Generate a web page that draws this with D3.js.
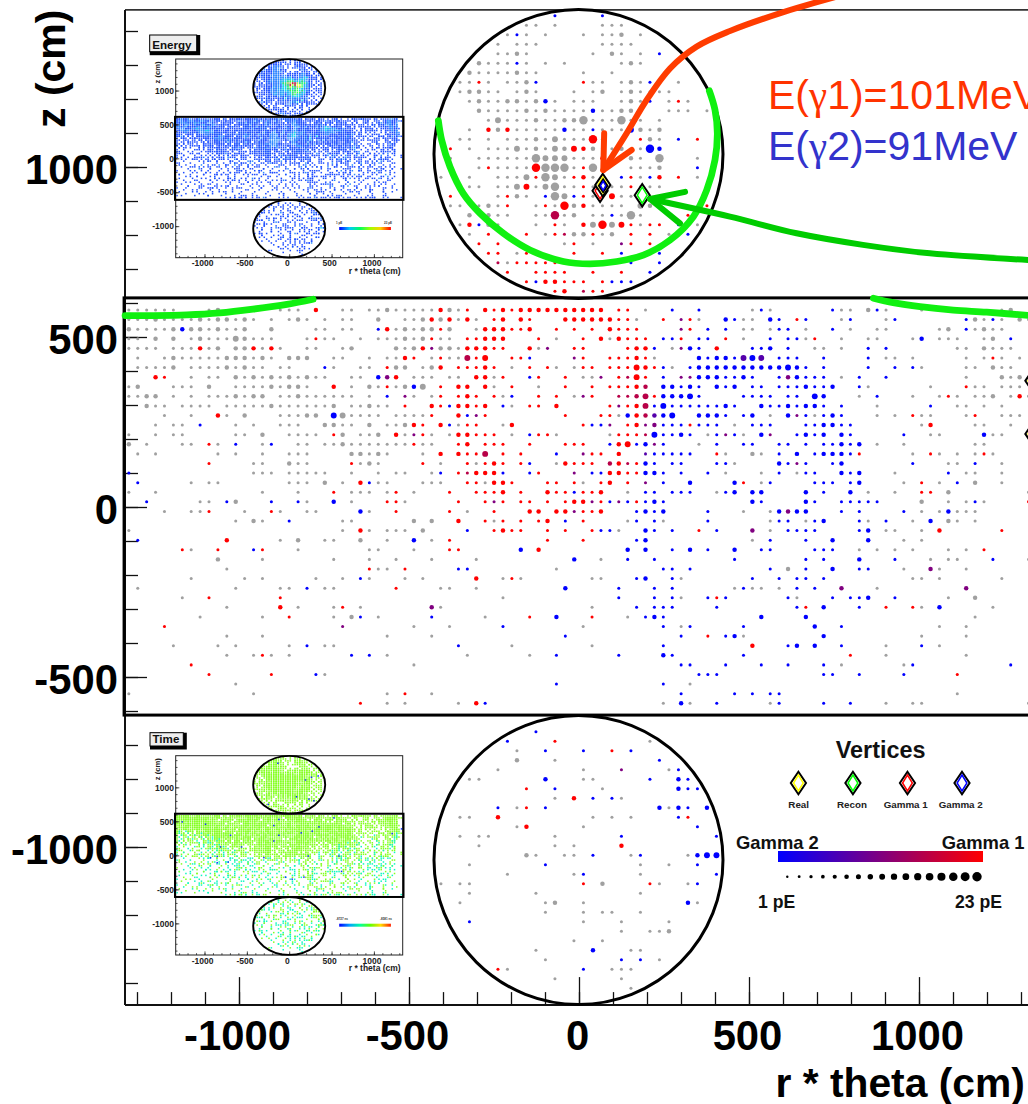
<!DOCTYPE html>
<html><head><meta charset="utf-8">
<script src="https://cdn.jsdelivr.net/npm/d3@7/dist/d3.min.js"></script>
<style>html,body{margin:0;padding:0;background:#fff;overflow:hidden}svg{display:block;font-family:"Liberation Sans",Arial,sans-serif}</style>
</head><body><svg id="c" width="1028" height="1104"></svg>
<script>
// ---- data: one string per detector row, "<column><colour><size>" per hit
// g grey, r red, b blue, p purple, c crimson, v violet; capital = bigger, ^ and + bigger still
const barrelHits = [
"0g 1g 2g 3g 4g 5g 9g 10G 17g 18g 19g 21R 24g 25g 27g 28g 29G 30g 31g 32g 33g 34g 35R 36G 37g 38r 40R 41r 42R 43r 44R 45R 46R 47R 48R 49R 50R 51R 52R 53R 55r 56r 58g 61b 64b 70g 71b 72g 79b 80g 81g 83G 84b 85g 89g 98g 99G",
"0g 1g 2g 3G 4g 5g 6g 7g 8G 9g 10G 11G 12g 13G 14g 16g 18g 19G 20g 22g 24g 25g 28G 31g 32g 33G 34R 35G 36R 37g 38R 39g 41r 42R 44R 45r 49R 50R 51R 52R 53R 54R 55r 56r 57g 60r 62p 63r 64g 67B 68b 69g 70g 72B 73b 75r 76b 80g 81b 85g 86b 94b 95G 96g 97b 98g 100G 101g",
"0G 1g 2g 3g 4g 5G 6B 7G 8G 9g 10G 11g 12g 13G 16G 21g 22g 24g 25g 28b 29R 30g 31G 32g 33G 34G 35r 36G 39g 40R 41R 42R 43r 44r 45R 48r 50r 52r 54R 55r 56r 57r 62p 63r 65b 67b 69g 70g 72g 73b 74b 76g 79b 81g 84g 85g 91g 92G 94b 95g 96G 97g 98g",
"0g 1g 3G 5G 7g 8G 9g 10g 11g 12G^ 13G 14g 15g 16g 20g 21r 22g 23g 26g 28g 29g 30g 31G 32g 33G 34r 35g 36g 38r 39r 40R 41R 42R 46r 48g 51r 53R 54g 55R 56r 57r 58r 60b 61b 62r 64b 65b 67r 69g 72b 74b 75b 76g 77r 80g 83g 84g 88g 89B 91g 92g 93g 96g 97G 99b",
"0g 1g 2g 3g 5g 6g 7g 8R 9g 10G 12G 13G 14R 15g 16R 17g 20g 21g 24g 25G 30G 31g 32G 33R 34p 35G 36G 37g 38R 39R 40R 41r 42r 45R 46g 47p 50r 51r 56r 57R 58R 59b 61g 62p 63B 64b 66R 70b 71b 72B 74b 77g 78g 80g 83b 85b 93g 94g 96G 97g 98g 99g",
"1g 4g 5G 6g 7g 8g 9g 10g 11G 12G 13G 14g 15G 16g 18G 19G 20G 23g 24g 27g 29g 30g 31R 32r 34g 35r 36g 37g 38C^ 39r 40R^ 43r 44r 45b 50p 51r 54r 55r 56r 57R 58r 59g 64B 65b 66B 67B 68b 69V^ 70B^ 71V^ 73b 74b 75b 78b 83b 85g 86g 88g 94g 96g 97r 98g 100g",
"1g 2g 3g 4g 5G 7g 8g 9g 10g 11G 12g 13G 14g 15g 17g 18g 22b 23g 26g 27g 29r 30G 31G 33g 34G 35R 37r 38r 39r 40R 41r 43g 45r 47r 48g 50g 51r 52r 54r 55r 56r 57R^ 58R 59r 60b 61g 63b 64B 65B 66B 67B 68B 69B 70B 71B 72B 73B 74B^ 75B 76b 78b 83b 86b 88b 89g 94g 95g 97G 98g 99g",
"3R 4r 7g 9g 10g 12G 13g 14G 15g 16G 17g 18G 19g 20G 21g 22g 25g 26g 28B 29P 30R 32g 33g 34g 36g 37g 39R 40R 41g 42r 45b 46r 49r 51g 52g 53p 55r 56c 57R^ 58r 60b 62p 63p 64B 65B 66B 67b 68b 69B 70b 73b 74P 75B 76b 77b 78b 80g 82b 85b 94g 98G 99g 100G",
"0g 1G 5g 6g 7g 9G 12g 13g 14g 15g 16G 17g 18G 19G 20g 23R 25g 27G 28g 29r 30g 31G 32B 33G^ 35r 37R 38R 40R 41g 43r 46g 49r 52r 54r 55r 56r 57R 58C 60B 61B 62b 63B 64b 66B 67b 68B 70b 71b 73b 74b 75b 76B 77b 78b 79B 82b 83g 90g 94r 95g 96g 98g 99g 100g",
"0g 1g 2G 3G 5g 7g 9g 10g 11g 12G 13g 14G 15G 17g 18g 19G 20g 21g 22g 23g 24g 25g 27g 29b 31p 32g 34g 35r 37r 38R 39r 41r 42g 43b 46r 48r 50g 51p 52r 55c 56c 57C 58C^ 59r 60B 61B 62B 63B^ 64b 69b 70b 71b 72b 74b 75b 77B^ 78B 82g 84b 88g 91g 92r 93g 95g 96g 97G 99g 100R 101g",
"2G 3g 4g 6g 7g 8g 9g 11g 12g 13g 14g 15g 16G 17g 18g 19g 20g 21g 22g 23G 25g 26g 27G 28g 29g 31r 34R 35r 36b 37R 38R 39r 40R 42b 43g 45r 46r 48R 54r 55p 56r 57R 58C^ 59b 60B^ 61b 62b 63b 64b 65b 66b 67B 68b 71B 72b 73b 74B 75b 76B 77B 78b 80b 84g 90b 93g 94g 96g 98g",
"4g 7g 10R 11g 13G 17g 18g 19g 20G 21G 23B^ 24G^ 25g 26g 27g 28g 30g 31g 32g 33g 34r 37R 38b 39p 40r 49r 53r 54r 55g 56B 57R 58C 59V 60B 61B^ 64B 65B 66B 67b 69b 70B 72g 74B 75p 76b 77g 78b 79B 80b 84g 86g 88r 89g 90g 94g 95r 98g 99g 100g",
"3g 5g 6g 8b 12g 14g 17g 18g 19g 22G 23G 24g 25g 27G 29g 30g 31G 32R 33r 35R 36b 37g 38r 39r 42g 43R 51r 52b 53b 54p 56r 57R 58p 59P 60b 61b 62b 63r 64b 65b 66b 68g 70b 71b 72b 76b 77b 78B 79B 80b 81b 89g 90R 95g 96g 99g",
"0g 3g 5g 6g 12g 13g 15G 18g 19g 20g 21g 23r 24G 26g 27g 28G 30R 31g 32p 33r 34g 36g 37R 38R 39r 40r 41r 43g 45b 46r 47r 48g 54g 55r 56r 57r 58c 59B^ 60b 61b 62B 63b 65g 66b 67p 68b 69g 71B 72p 75b 76B 77b 78B 80B 81b 87b 90g 91g 96B 97g 98g",
"0G 2g 6g 7g 9r 10g 12b 15g 16b 19g 20g 22g 23g 24G 25g 26g 27g 28g 29g 30g 31g 32r 33g 34g 37r 38R 40r 41r 42r 45r 49r 50r 51r 54b 55R 56R^ 57b 58B 59p 60b 64g 66b 69b 70b 73b 74b 76b 78b 79b 80B 81b 82B 84g 87g 95g 96g",
"1g 3g 10g 12g 15g 18g 19g 20g 25G 26G 27g 28G 29g 33g 35R 37R 38r 39r 40C^ 42r 44r 48b 51p 52r 53r 55R 58v 59b 60b 61b 62b 63b 66r 67g 70G 71g 73b 75B 77b 78B 79B 80B 81b 82r 88g 90r 91g 93g 95g 96r 97g",
"9r 14g 15g 18G 19g 20g 25r 26g 27G 28g 33r 35g 38r 39g 40r 41R 42r 44r 45b 48g 49R 50r 51r 52r 54C 55R 56c 57r 58B 59b 61b 62b 66b 67b 68g 73B 74b 75p 76b 79b 80B 88b 92g 93g 95b 98g",
"0b 14g 15g 16g 18g 19g 20g 21g 22g 25g 28g 30g 31g 34g 35b 37r 38c 39R 40R 41R 42b 45b 46r 50p 52b 53b 54R 55R 56r 57r 58B 59B 60b 62b 65b 67g 71g 73b 75g 76b 77b 80B 81b 82B 86g 92b 94g 95g 98g",
"1b 7g 9g 10g 18g 19g 20g 22G 24g 26R 27b 28g 29g 33g 34g 35g 38r 39r 40g 41R 42R 43r 47r 48r 50r 51g 53r 54R 56r 58p 60b 63B 68B 69r 71g 72b 77b 78b 79b 81b 82B 87g 89r 91g 93b 95G 98g",
"0g 3g 15g 19g 23r 25g 26g 27g 29g 30r 32g 36r 39r 40r 41r 42R 44r 47R 48r 49r 50b 51r 52r 53R 56g 58b 59b 61b 62b 63b 66g 67b 68B 70B 71B 76B 78b 81B 83g 86g 89r 90r 92G 101g",
"2b 8g 9g 11b 12G 16b 19b 20g 23B 25g 29r 30r 31g 37r 40r 41p 42r 44r 45r 47r 49r 50R 51R 52p 53r 54b 55p 56b 57r 58b 59B 60b 70B 71b 76B 77b 80b 81b 82b 83b 84b 89G 92g 94g 95b 96g 101r",
"4g 7g 8g 9r 13g 16r 17g 20g 21g 26B 27g 30r 36r 38g 41r 45R 46R 48R 49R 50p 51r 52r 53R 57b 58B 59b 60B 65b 69g 72g 73B 74P 75B 76B 80b 82b 87b 89g 91g 92B 93g 94g 95g",
"12g 14G 15g 18b 24g 25g 32G 34G 37R 40r 41g 42r 44r 46r 47R 49b 51r 56g 57b 59b 60g 65b 72g 73b 74b 76g 77b 78B 82b 83g 85b 88g 90B 92G 93g 95g",
"0g 24g 26R 27g 29g 30g 31g 33G 38b 41r 42R 43r 44r 47r 49r 52r 53b 54b 55g 58B 59b 61b 64r 66b 70P 72g 74b 75b 76b 77b 82b 83B 85g 86g 89g 91R 98r",
"1b 11R 17g 19G 22g 23g 26G 29g 32B 34g 36r 47r 51r 57b 58B 70g 72b 76b 79B 83B 87g 89g",
"6r 7g 10r 14b 15r 19g 27g 28g 32g 36r 37r 44B 46R 56B 58B 61b 63B 65b 68B 71b 72b 77b 78b 79b 82g 84g 86g 88g 92g 94g 96r",
"10G 15g 23g 27g 30g 34g 39g 50B 53g 56b 59b 68b 76b 78b 82B 86b 90g 92g 93g 97b 101g",
"11g 27r 28g 29g 31r 37b 38b 48g 60b 61b 63b 72b 74G 76b 79B 82b 83b 87g 90P 91g 94g",
"7g 13g 15g 21g 24g 26b 27g 31g 33g 39R 42g 43r 44g 52g 53g 57b 58B 61b 62g 70b 73b 75b 76b 78b 88g 89g 91g 98g",
"1g 12g 17g 18g 20b 22g 23g 30r 35g 36g 39g 49B 55b 59b 61b 68g 69b 70g 71g 73g 75b 77b 80P 84g 94P",
"6g 9r 17r 42g 55b 59b 61b 62g 65b 66r 67b 74b 75g 79b 81b 82b 83B 86b 92g 95G",
"11g 17R 19g 23g 24r 26g 34P 35g 52g 57b 59b 60b 61b 66b 75b 76r 78B 82b 85r 88r 89g 91B 97g",
"8g 15g 18r 23g 25G 26b 28g 34b 40g 45r 48B 52r 56g 58b 59B 60b 71B 76B 95g",
"4r 24p 32g 36g 42b 51g 60b 62g 63b 69b 77B 80b 91g 94g",
"11g 15g 29g 34g 49b 62b 65r 67b 68B 69g 78B 89g 94g",
"5g 10g 12g 18g 20b 22g 23g 37b 43g 52g 60b 70R 74b 75B 77B 80b 85g 89b 91g",
"11g 14g 15r 16g 18g 25b 27b 29g 38g 45g 48b 55b 60B 61b 69b 81r 85g 94g",
"7r 32g 62b 63b 67b 71b 74b 78b 80g 87g 88b 99b",
"9r 16r 21b 22g 64b 65b 66b 78b 79b 82b 87b 93r",
"12g 48b 60b 63g",
"0g 14g 29g 31r 34g 62b 68b 70b 72b 73b 93g",
"26r 29g 31g 37g 39R 40b 60g 62B 63g 66b 72g 73b 78b 81b 85g 88g 89g 101g"
];
const topHits = [
"12b 17b",
"9g 10g 12g 17g 18g 19g",
"7g 8b 9g 11g 15g 17g 18g 19G 21g",
"6g 8g 9g 10g 17g 18g 19g 20g",
"6g 7g 8G 9g 16g 18G 19g 21g 23b",
"4G 5g 6g 7g 8b 9g 11g 13g 19g 20G 21g",
"3G 4g 5g 6g 7g 8G 9g 10g 15g 18g",
"2g 3g 4r 5g 7g 8g 9G 10b 15r 16g 17g 19g 20G 21g 22b 25g",
"2g 3G 4G 5g 6g 8g 9G 10g 14g 16g 17G 19g 20G 21g 22g 23g 24g",
"3g 4G 5g 6g 7G 8G 9g 10G 11B 12g 14g 15g 16g 19g 20G 21g 22b 24g 25r 26g",
"4G 5g 6g 7g 8g 9G 10g 11G 12g 13g 14g 15g 16B 17g 18g 19G 20G 21g 24g 25g 26g 28g",
"5g 6G^ 7g 8g 9g 10G 11g 12g 13G 14G 15G+ 16g 17g 18g 19G+ 20g 21g 23g",
"3g 5R 6G 7R 8g 9g 10g 11g 12g 13B 14g 15g 16b 17g 18g 19g 20B^ 21G 22g 23G",
"2g 3g 5g 7g 8g 9g 10G 11g 12G^ 13g 14g 15g 16R+ 17g 21r 22G 23g 25b 27r",
"1r 3g 5g 6g 7g 8G^ 9g 10G 11g 12G^ 13G 14R^ 15R 16G 17g 18g 19G 21g 22B+ 23B",
"1g 4g 5g 6g 7g 8g 9g 10G+ 11G^ 12G^ 13G^ 14g 15g 16g 17R 20G 21g 23G+ 27g",
"4g 5r 6g 7g 8g 9g 10R+ 11G+ 12G+ 13G+ 14g 15r 16G+ 17g 20g 21g 22g 23G 27b",
"0g 3g 6g 7g 8g 9G^ 10r 11G+ 12G^ 13g 14r 15R 16g 19b 20r 21g 22b 23R 25r 27g",
"3g 4g 6g 7g 8G^ 9R^ 10g 11G^ 12G+ 13g 14g 15r 16g 18g 19g 20r 21g 22g 23g",
"1r 6g 7r 8G 9g 11b 12G+ 13G^ 14b 15r 16g 18R^ 19g 20g",
"1g 2g 4g 5G 6g 7r 10g 11r 12g 13R+ 14G 15R 16g 17g 18g 19g 21G^ 22G 28r",
"3G 5G 6g 7g 10g 11g 12C+ 13g 14G 16g 17g 18b 19g 20G+ 21g 26r",
"2g 3R 4b 5G 6g 10g 12r 13g 15R 16G^ 17R+ 18G^ 19R^ 20r 21g 22r 23r 25b 27g",
"3g 5r 9r 11g 12r 13c 14G 15G 16r 17g 18G 20r 22r 24g 25b 26b",
"4r 6r 13g 14r 16g 19p 20r 22r",
"5r 6r 8g 9r 14r 17r 19b 23b",
"6c 7g 8r 9r 10r 11r 12r 20b 23b",
"7r 10r 11r 12r 13r 16r 19r 22b",
"9r 10b 11R 12R 13r 14r 15r 17r 18b 19b 20b",
"12r 13R 15c 16r 17r"
];
const bottomHits = [
"10b","7b 12r 22g","8g 11b 15b 18r 20b","8G 12g 23b","6g 15g 19p 24g 25b",
"3g 4g 11B 15g 16g 22b 25B 26b","9r 12b 17g 25B 26b 27b","12g 14R 16b 18b 19g",
"6b 8g 9r 11b 23B 24g 25B 26b 28B","2g 3g 6R 16g 18g 20g 25b 26r","8g 9R 15g 27b",
"2g 4g 5g 12g 19b 29b","4g 12g 14g 19R","9G 10g 13g 14g 16b 20g 21b 26g 27B 28B^ 29B^",
"3g 11b 21g 24g 27b","7g 14g 15b 21g 29b","0g 2g 3g 15r 17G 22r 23g 26g 27b","3g 10g 21g",
"2g 11g 12G 15g 26B 27g","11g 15g 17g 18g 21g","3b 15g 19g 24g","19g 22g 23g 24G","14g 17g",
"10g 16B 20g 21g","11g 19b 21b 23g","6r 7g 15b 18g 19g 20g","12g 19g","20g"
];
// detector cells lit only in the small all-hit plots: a-f energy level, t = low energy and late time
const insetBarrelExtra = [
"aabaabbaaabaaabaaaaa.aa.aaaaaa.aaaaaa.aaa.aaaa.aaaaaaaaaa.aaaaa.aaa.a..aa.a..a.aa.aaa.aa.aa.aaaabbaa",
"abbaabbbaaabbaaabaaa.aaaa.aa.aa.aaa.aa.aabaa.aaa.aaaabaaa.aaaa.aaaa..a.aaaa..aa.a...a.a..aaa.aabbaaa",
"aabbbaaabbbaaabbaaa.aa.aaa.aaaa.aaaaaa.a.aa.aaaaa.aabbaaaaa.a.aaaa.aaaa.a.aaa..a.a...aa.a.aa.aabbaab",
"abaabbaabaabbaaabbaaaa.aa.aaaaaaa.aa.aaa.a.aaaaa.aaabbbaaaaaa.aaabaa.a.aaaa.a.aa..a...a.aa.a.abbbaab",
"bbabbaaaabbaaabbaaaaaa.aaaaaa.aaaaaa.aaaa.aaaaaaabaaabbbaa.aaaa.aabcbbaaaaa.aaa.a.a.a.aa.a.aa.aabbab",
"abbbaaabbcbbaabaaaaaaaaa.aa.aaaaaabaaaaaa.aaaaaaaabaabbaaaaaaaaaabbccbbbaaabaa.aa..a.a.aa.a.aa.abbaa",
"aabbbbaaabbbbccbbaaaaaaaaaaaaaaaaaaaaaa.aaaabaaabaaabbbaaaaaaaaaabbcbbbabbaaaaaa.a.a.a.aa.a.a.a.abab",
"aaaabaaaaabbbbbbbaaaaaaaaaa.aaaaaaaaaaa.aaabbaaabaabbcbbbaaaaaaaaaabbbbbaaaaaaaaa..a.a.a.a..a.a.aaab",
"ata.taaa.aaa.bbaaaaaa.aaaaa.aaabaaaaa.aaaabbbbabaabbccbbbaaa.aaaaaabbaaaaaaaaaa.a.a...a.aa.a...a.aab",
"at.a.t.a.aata.aaaaabbbaaaa.aaabbbaaaa.aaaabbbbaaaabbccbbaaaa.aa.aaaaaaaaaaaaaaaa.a.a.a.a...a.a..a.at",
"a.ta..a.t.a.aat.abbbbaaaa.aaaaabaaa.aa.aaabbbbbaaabbbbbbaaaa.a.aaaaaaaaaaaaaaaaa..a...a..t.a.a.a.aat",
"at.a.t..a.at.aaataabaaaaaa.a.aaaaa.aa.aaaabbbbbaaaabbbbaaaaa.a.a.a.aa.aaaaaaaa.a.a.t...a...a..a..att",
"a.t..a.t.a.at.aataataaa.a.aaaaa.aa.a.aaaaabbbbaa.a.abbaaaaa.aa.a..aaaaaaaaaaaaa...a.....t.a...a.a.t",
".t.a...a.t..a.taaataaa.aa.aaa.a.a.aa.aaabbbbbbaa.aaabbbaaa.a.a.aaa.aaaaaaaaaa.a.t..a..a...t..a.a.tt",
"a.t.a...a.t.aatta.aa.aa.a.aa.a.a.a..aaaaaabbbbaaa.aaaabbaaaa.aa.a.a.aaaaaaaaata...t.....a..t.a...at",
".a..t.a...a.t.a.atat.aaa.aa..aa.a.a.aaaaaabaabaa.a.aaaaaaaa..a.a.a.aa.aaataaa.a..t...a....t...a.tt.",
"t..a....t.a.t..at.a.ata.aa.a.a...a.aaaa.aaaaaa.aa.a.aaaaaa.a.a..a.a.a.a.ataat.a....t..a..t...a...ta",
".a...t.a...t.a.t.at.aa.t.a...a.a.a.aaa.aaaa.aa.a.aa.aaaaa.a...a.a...a.a.at.a.at.t....a....t..a..t.a",
"t.a...t...a...t.a.t.ta.a..t.a.a..a.aaaa.aaa.a.a.a.a.aaaaaa.a.a..a.a..at.at.a.t...a..t..a.....t...a.",
"...t....a..t.a...t.a.t.a.t...a.t...a.aaa.aa.a.a.a..aaaa.a.a..a..t..a..t.a.t..a..t...a....t.....a..t",
"t....a....t...a.t.a..t..a.t..a...a.a.aa.aa.a.a.a.a.a.aa.aa.a..a.t..a.t.a.t.a..t.a....a...t..a.....",
"..t....a...t..a..t.a.t.a...t.a.a...a.a.aa.a.a.a.aa.a.a.aa.a.a...t.a...t.a.t.a.a....t...a....t.a..a",
"...t......a...t...a.....t...a....t...a..a.t..a...a...t..a...a...t.....a...t..a...a....t...a.....t..",
".a....t.....a.....t..a....t..a.....a...t...a.t.....a...t...a.....t..a.....t.....a.t.....a...t....a",
"....t...a.....t.a.....t.....a...t....a..t.....a.t....a.t....a.t.....a...t....a.....t...a.....t..a..",
"..a.....t...a.....t...a..t......a..t.....a...t...a.....t..a....t.a.....t..a.....t.a....t...a......t",
".....t.....a...t....a.....t.a....t.....a...t.....a...t...a.t.....a...t.....a.t.....a.....t...a...t.",
"a.....t.a.....t....a...t.....a.....t.a....t...a....t.....a....t.a...t...a.....t...a...t.....a...t..",
"...t.....a...t....a.....t...a..t.....a.....t.a.....t...a...t.....a...t.....a..t.....a.t.....a...t..",
".a....t.....a.....t.a.....t.....a.t.....a.....t..a...t.....a.t.....a....t.....a...t.....a.t.....a..",
"....t....a.....t.......a..t.....a.....t..a...t.....a.t.....a...t.....a.t.....a.....t...a.....t....a",
".t.....a.....t...a.....t.....a.t.....a...t.....a.....t.a.....t.....a...t....a...t.....a.....t..a...",
"...a.....t.....a.....t...a.....t.....a.....t...a.t.....a.....t..a.....t.....a.....t.a.....t.....a..",
"t.....a...t.....a.....t.....a...t.....a..t.....a.....t.....a.t.....a.....t...a.....t.....a...t.....",
"..a.....t.....a...t.....a.....t.....a.....t...a.....t.a.....t.....a...t.....a.....t...a.....t.....a",
".....t.....a.....t.....a...t.....a.....t.....a...t.....a.....t.a.....t.....a.....t.....a...t.....a.",
"t...a.....t.....a.....t.....a.....t...a.....t.....a..t.....a.....t.....a...t.....a.....t.....a...t.",
"...t.....a.....t...a.....t.....a.....t.....a.t.....a.....t.a.....t.....a.....t.....a...t.....a.....",
".a.....t.....a.....t.....a...t.....a.....t.....a.....t.....a...t.....a.....t.....a.....t.....a...t.",
"....a.....t.....a.....t.....a.....t.....a.....t.a.....t.....a.....t...a.....t.....a.....t.....a....",
"..t.....a.....t.....a.....t...a.....t.....a.....t.....a.t.....a.....t.....a.....t.....a.t.....a....",
"......................t.a.t.aa.t..a.t.........a.t.a....a.t.a.....t.a.t.a.t.a.t.....a.t.a.t...a.t..."
];
const insetTopExtra = [
"..........a.a..a.a.a..........","........aa.a.a.a...a.a........","......aaaaaa.aa..a.aa.a.a.....",
".....aaabbbaa.a...aa.aa.a.....","....a.aabbbba.a..a..aa.aa.a...","...a.aaabbbaaa.....a.aa.a.a...",
"..aa.aaabbbbaa...aa.aaaa.aa...","..a.aaaabbbaa.aa.aaabbaa.a.a..",".a.aaaabbbbabbaa.aabbbaaa.aa..",
".aa.aaaabbbbbbbcaaabbccaa.a.a.",".a.aaaabbbbbcccccbbcccbaa.a.a.",".aa.aaabbbbcccdddcccdcbaa.aa.a",
"a.aa.aaabbbcddeeffedddcaa.a.a.","a.a.aaaabbbbcddfefeedcbaaa.aa.","a.a.aaaabbbbccdeddeedcbaa.a.a.",
".aa.aaabbbbbccddcddccbaa.aa.a.",".a.a.aabbbbbbccddddcdcbaa.a.a.",".aa.aaabbbbbbbccddddccaa.a..a.",
"..a.aa.abbbbbaccddcccba.a.a.a.","..aa.aa.aabbaabbccccbaa.aa.a..","...a.aa.aaa.a.abbbbbaa.a.a....",
"...a.a.aa.a.a.aabbaa.aa.a.a...","....aa.a.a.a..a.aa.a.aa.a.....",".....a.a.aa.a...a.a.a.aa......",
"......a.aa...a.a.a..a.a.......","........a.a.a.a..a.aa.........",".........a.a..a.a.a.a.........","...........a.a.a.a............"
];
const insetBottomExtra = [
"..........t..a.t...a..........",".......a..t...a.t..a..........","......t..a..t....a...t........",
"....a...t.....a..t..a...a.....","....t...a..a..t....a..t.......","...a..t.....a...t...a...t.a...",
"..a....t..a...t...a..t...a....","..t..a.....t..a....t....a...t.",".a...t..a....t...a..t..a...a..",
".t.a....a..t..a....t....t.a.t.","a...t.....a...t..a....a....a..",".a..t..a.....t...a..t...a..t.a",
"t...a....t...a...t...a..t...t.",".a.t...a...t...a....t.a....a.t","...a...t.....a..t..a...t...t..",
"..t....a..t....a...t...a..a...","..a..t.....a...t..a...t..a.t..","...t....a...t..a....a...t.....",
"....a..t....a..t...t..a...a...",".....t....a...t..a..t...a.....","......a..t...a...t...a..t.....",
".......t....a..t.a...t.a......","........a...t...a...t.........","..........t..a..t.a...........","............a.t..............."
];
// blue (early) cells of the time plot: r*theta and z, cm
const timeEarlyTheta = [-1263,-988,-693,-811,-563,-929,-850,-850,-720,-122,-181,-122,-181,142,272,351,528,224,587,618,-44,35,174,-299,1216,1326,-133,342,263,192,410,86,233,292,-248];
const timeEarlyZ = [492,458,295,123,123,-34,-15,-108,-99,527,438,295,211,330,355,418,551,-10,-10,-236,-320,-350,-320,-34,320,389,1354,1167,1148,1108,1167,861,827,802,749];

const xTicks = [-1000,-500,0,500,1000];
const zTicks = [1000,500,0,-500,-1000];
const legendPe = [1,2.4,3.75,5.1,6.5,7.9,9.25,10.6,12,13.4,14.75,16.1,17.5,18.9,20.25,21.6,23];
const vertexNames = ["Real","Recon","Gamma 1","Gamma 2"];
const vertexColors = ["#ffff00","#00ff00","#ff0000","#0000ff"];
const energyStops = ["#0000ff","#00c8ff","#00ff60","#a0ff00","#ffd000","#ff0000"];
const timeStops = ["#0000ff","#00a0ff","#00ffa0","#60ff00","#ffe000","#ff2000"];
const energyLevels = {a:"#1c4cff",t:"#1c4cff",b:"#2a8cff",c:"#10d8e8",d:"#30ff50",e:"#e0ff20",f:"#ff2000"};
const ringTop = [[-413.7,1136],[-403.9,1079],[-379.4,1001],[-340.2,922],[-291.2,864],[-222.6,805],[-144.1,756],[-46,722],[32.4,715],[110.8,722],[189.2,741],[267.6,785],[336.3,854],[375.5,932],[400,1021],[406.9,1099],[400,1168],[383.4,1224]];
const ringBarrelLeft = [[-1335,563],[-1253,563],[-1154,565],[-1056,571],[-959,582],[-859,596],[-782,611]];
const ringBarrelRight = [[866,614],[924,601],[1003,589],[1101,579],[1199,573],[1340,562]];
const redArrow = [[765,1503],[606,1457],[444,1400],[346,1354],[268,1290],[199,1197],[140,1099],[71.5,991]];
const redBarbs = [[74,1099],[71.5,991],[155,1050]];
const greenArrow = [[1332,726],[1032,746],[835,771],[640,805],[444,854],[209,906]];
const greenBarbs = [[312,927],[209,906],[297,834]];
const vertices = [["Gamma 1",62,930],["Real",70,947],["Gamma 2",71,945],["Recon",186,917],["Real",1335,371],["Real",1335,215]];

// geometry of the detector grids, cm
const barrelCol0=-1324, barrelColStep=26.2, barrelRow0=579.4, barrelRowStep=28.21;
const capCol0=-406, capStep=27.94, topRow0=1445, bottomRow0=-661;
const capRadius=425, capCentre=1038, barrelHalf=612;

// ---- scales
const W=1028,H=1104;
const svg=d3.select("#c");
const x=d3.scaleLinear().domain([-1000,1000]).range([239,919]);
const y=d3.scaleLinear().domain([1000,-1000]).range([167,847]);
const rPe=d3.scaleLinear().domain([1,23]).range([1.2,4.7]);
const gammaMix=d3.scaleLinear().domain([0,1]).range(["#0000ff","#ff0000"]);
const mixOf={r:1,c:.72,p:.5,v:.33,b:0};
const peOf=(big,mod)=>mod==="+"?20:mod==="^"?12:big?7.5:3;

function parse(rows,region){
  return rows.flatMap((s,row)=>s.split(" ").filter(Boolean).map(t=>{
    const m=t.match(/^(\d+)([a-zA-Z])([+^]?)$/);
    const k=m[2].toLowerCase(),big=m[2]!==k,col=+m[1];
    const pos=place(region,col,row);
    return {region,row,col,k,pe:peOf(big,m[3]),theta:pos[0],z:pos[1]};
  }));
}
function place(region,col,row){
  if(region==="barrel") return [barrelCol0+col*barrelColStep,barrelRow0-row*barrelRowStep];
  return [capCol0+col*capStep,(region==="top"?topRow0:bottomRow0)-row*capStep];
}
const hits=[...parse(barrelHits,"barrel"),...parse(topHits,"top"),...parse(bottomHits,"bottom")];
const extras=[["barrel",insetBarrelExtra],["top",insetTopExtra],["bottom",insetBottomExtra]].flatMap(([region,rows])=>
  rows.flatMap((s,row)=>Array.from(s).map((ch,col)=>({ch,col,row,region})).filter(d=>d.ch!==".").map(d=>{
    const pos=place(region,d.col,d.row);return {...d,theta:pos[0],z:pos[1]};
  })));

const defs=svg.append("defs");
function gradient(id,stops){
  const g=defs.append("linearGradient").attr("id",id);
  stops.forEach((c,i)=>g.append("stop").attr("offset",i/(stops.length-1)).attr("stop-color",c));
}
gradient("gradGamma",["#0000ff","#ff0000"]);
gradient("gradEnergy",energyStops);
gradient("gradTime",timeStops);

svg.append("rect").attr("width",W).attr("height",H).attr("fill","#fff");

// ---- main axes
const axisStyle=g=>{g.select(".domain").remove();g.selectAll("line").attr("stroke","#111");g.selectAll(".tick line").attr("stroke-width",1.3);};
const all100x=d3.range(-1300,1700,100), all100y=d3.range(-1400,1500,100);
const yb=y(-1465), xl=125;
svg.append("line").attr("x1",xl).attr("x2",W).attr("y1",y(1462)).attr("y2",y(1462)).attr("stroke","#333").attr("stroke-width",1.6);
svg.append("g").attr("transform",`translate(0,${yb})`).call(d3.axisBottom(x).tickValues(all100x).tickSize(-13).tickFormat("")).call(axisStyle);
svg.append("g").attr("transform",`translate(0,${yb})`)
 .call(d3.axisBottom(x).tickValues(xTicks).tickSize(-28).tickPadding(15))
 .call(axisStyle)
 .call(g=>g.selectAll("text").attr("font-size",41.8).attr("font-weight","bold").attr("font-family","Liberation Sans").attr("fill","#000").attr("dx",-2).text(d=>d));
svg.append("g").attr("transform",`translate(${xl},0)`).call(d3.axisLeft(y).tickValues(all100y).tickSize(-13).tickFormat("")).call(axisStyle);
svg.append("g").attr("transform",`translate(${xl},0)`)
 .call(d3.axisLeft(y).tickValues(zTicks).tickSize(-22).tickPadding(7))
 .call(axisStyle)
 .call(g=>g.selectAll("text").attr("font-size",41.8).attr("font-weight","bold").attr("font-family","Liberation Sans").attr("fill","#000").attr("dy","0.4em").text(d=>d));
svg.append("line").attr("x1",xl).attr("x2",xl).attr("y1",y(1462)).attr("y2",yb).attr("stroke","#111").attr("stroke-width",2);
svg.append("line").attr("x1",xl).attr("x2",W).attr("y1",yb).attr("y2",yb).attr("stroke","#111").attr("stroke-width",2);

svg.append("text").attr("transform","translate(65,128) rotate(-90)").attr("font-size",41).attr("font-weight","bold").text("z (cm)");
svg.append("text").attr("x",775.5).attr("y",1097).attr("font-size",40.8).attr("font-weight","bold").text("r * theta (cm)");

// ---- insets
function inset(cfg){
  const ix=d3.scaleLinear().domain([-1340,1340]).range([175.7,402.7]);
  const iy=d3.scaleLinear().domain([1465,-1465]).range([cfg.top,cfg.bottom]);
  const g=svg.append("g");
  g.append("rect").attr("x",cfg.boxX).attr("y",cfg.boxY).attr("width",cfg.boxW+3.5).attr("height",cfg.boxH+3.5).attr("fill","#000");
  g.append("rect").attr("x",cfg.boxX).attr("y",cfg.boxY).attr("width",cfg.boxW).attr("height",cfg.boxH).attr("fill","#eee").attr("stroke","#000").attr("stroke-width",1);
  g.append("text").attr("x",cfg.boxX+2.5).attr("y",cfg.boxY+cfg.boxH-3).attr("font-size",11.6).attr("font-weight","bold").attr("fill","#111").text(cfg.title);
  g.append("rect").attr("x",175.7).attr("y",cfg.top).attr("width",227).attr("height",cfg.bottom-cfg.top).attr("fill","#fff").attr("stroke","#222").attr("stroke-width",1);

  const clipId="clip"+cfg.title;
  const cp=defs.append("clipPath").attr("id",clipId);
  cp.append("rect").attr("x",175.7).attr("y",iy(barrelHalf)).attr("width",227).attr("height",iy(-barrelHalf)-iy(barrelHalf));
  [capCentre,-capCentre].forEach(c=>cp.append("ellipse").attr("cx",ix(0)).attr("cy",iy(c)).attr("rx",ix(capRadius)-ix(0)).attr("ry",iy(0)-iy(capRadius)));

  const cells=g.append("g").attr("clip-path",`url(#${clipId})`);
  const s=1.5;
  cells.append("g").selectAll("rect").data(hits).join("rect").attr("x",d=>ix(d.theta)-s/2).attr("y",d=>iy(d.z)-s/2).attr("width",s).attr("height",s).attr("fill",cfg.hitColor);
  cells.append("g").selectAll("rect").data(extras).join("rect").attr("x",d=>ix(d.theta)-s/2).attr("y",d=>iy(d.z)-s/2).attr("width",s).attr("height",s).attr("fill",cfg.extraColor);
  if(cfg.early) cells.append("g").selectAll("rect").data(timeEarlyTheta).join("rect").attr("x",d=>ix(d)-s/2).attr("y",(d,i)=>iy(timeEarlyZ[i])-s/2).attr("width",s).attr("height",s).attr("fill","#1030ff");

  const st=a=>{a.select(".domain").remove();a.selectAll("line").attr("stroke","#222").attr("stroke-width",.8);};
  const txt=a=>a.selectAll("text").attr("font-size",8.5).attr("font-weight","bold").attr("font-family","Liberation Sans").attr("fill","#222");
  g.append("g").attr("transform",`translate(0,${cfg.bottom})`).call(d3.axisBottom(ix).tickValues(d3.range(-1300,1400,100)).tickSize(-1.8).tickFormat("")).call(st);
  g.append("g").attr("transform",`translate(0,${cfg.bottom})`).call(d3.axisBottom(ix).tickValues(xTicks).tickSize(-3.6).tickPadding(2.5)).call(st).call(txt).call(a=>a.selectAll("text").attr("dx",-2.4).text(d=>d));
  g.append("g").attr("transform","translate(175.7,0)").call(d3.axisLeft(iy).tickValues(d3.range(-1400,1500,100)).tickSize(-1.8).tickFormat("")).call(st);
  g.append("g").attr("transform","translate(175.7,0)").call(d3.axisLeft(iy).tickValues(zTicks).tickSize(-3.6).tickPadding(1.8)).call(st).call(txt).call(a=>a.selectAll("text").text(d=>d));

  g.append("rect").attr("x",175).attr("y",iy(barrelHalf)).attr("width",228.5).attr("height",iy(-barrelHalf)-iy(barrelHalf)).attr("fill","none").attr("stroke","#000").attr("stroke-width",2);
  [capCentre,-capCentre].forEach(c=>g.append("ellipse").attr("cx",ix(0)).attr("cy",iy(c)).attr("rx",ix(capRadius)-ix(0)).attr("ry",iy(0)-iy(capRadius)).attr("fill","none").attr("stroke","#000").attr("stroke-width",1.9));

  g.append("text").attr("transform",`translate(${159.5},${cfg.top+24.5}) rotate(-90)`).attr("font-size",7.6).attr("font-weight","bold").attr("fill","#222").text("z (cm)");
  g.append("text").attr("x",400.7).attr("y",cfg.bottom+16.3).attr("text-anchor","end").attr("font-size",8.5).attr("font-weight","bold").attr("fill","#222").text("r * theta (cm)");
  const ly=cfg.top+168;
  g.append("rect").attr("x",339.2).attr("y",ly).attr("width",51.7).attr("height",3).attr("fill",`url(#${cfg.grad})`);
  g.append("text").attr("x",336).attr("y",ly-3.4).attr("font-size",3).attr("font-weight","bold").attr("fill","#333").text(cfg.low);
  g.append("text").attr("x",392).attr("y",ly-3.4).attr("text-anchor","end").attr("font-size",3).attr("font-weight","bold").attr("fill","#333").text(cfg.high);
}
const energyOfHit=d=>d.pe>=10?energyLevels.c:d.pe>=6?energyLevels.b:energyLevels.a;
inset({title:"Energy",top:59,bottom:257.7,boxX:149.7,boxY:35,boxW:47,boxH:16.7,grad:"gradEnergy",low:"1 pE",high:"23 pE",
  extraColor:d=>energyLevels[d.ch],hitColor:energyOfHit});
const lime="#84ff20",teal="#10f8c0";
inset({title:"Time",top:755.7,bottom:955,boxX:150,boxY:732.7,boxW:33.3,boxH:13.3,grad:"gradTime",low:"-8727 ns",high:"-8581 ns",early:true,
  extraColor:d=>d.ch==="t"?teal:lime,
  hitColor:d=>(d.k==="g"&&((d.region==="barrel"&&d.row>=22)||d.region==="bottom"))?teal:lime});

// ---- event display: circles and hits
const rad=x(capRadius)-x(0);
[capCentre,-capCentre].forEach(c=>svg.append("circle").attr("cx",x(-1.5)).attr("cy",y(c)).attr("r",rad).attr("fill","none").attr("stroke","#000").attr("stroke-width",3));
svg.append("rect").attr("x",x(-1338)).attr("y",y(barrelHalf+3)).attr("width",W).attr("height",y(-barrelHalf)-y(barrelHalf+3)).attr("fill","none").attr("stroke","#000").attr("stroke-width",3);
svg.append("g").selectAll("circle").data(hits).join("circle")
  .attr("cx",d=>x(d.theta)).attr("cy",d=>y(d.z)).attr("r",d=>rPe(d.pe))
  .attr("fill",d=>d.k==="g"?"#a0a0a0":gammaMix(mixOf[d.k]));

// ---- Cherenkov rings
const line=d3.line().x(d=>x(d[0])).y(d=>y(d[1])).curve(d3.curveCatmullRom.alpha(.5));
[ringTop,ringBarrelLeft,ringBarrelRight].forEach(r=>svg.append("path").attr("d",line(r)).attr("fill","none").attr("stroke","#10f010").attr("stroke-width",6.8).attr("stroke-linecap","round"));

// ---- vertices
function diamond(g,cx,cy,colour,k){
  const p=(w,h)=>`M0,${-h}L${w},0L0,${h}L${-w},0Z`;
  const d=g.append("g").attr("transform",`translate(${cx},${cy})`);
  d.append("path").attr("d",p(7.6*k,11.2*k)).attr("fill","#fff").attr("stroke","#000").attr("stroke-width",2);
  d.append("path").attr("d",p(4.9*k,8*k)).attr("fill","#fff").attr("stroke",colour).attr("stroke-width",1.5);
}
const vg=svg.append("g");
vertices.forEach(([n,t,z])=>diamond(vg,x(t),y(z),vertexColors[vertexNames.indexOf(n)],n==="Gamma 2"?.55:1));

// ---- hand-drawn arrows
const arrowLine=d3.line().x(d=>x(d[0])).y(d=>y(d[1])).curve(d3.curveCatmullRom.alpha(.5));
const barbLine=d3.line().x(d=>x(d[0])).y(d=>y(d[1]));
const ag=svg.append("g").attr("fill","none").attr("stroke-linecap","round").attr("stroke-linejoin","round").attr("stroke-width",6);
ag.append("path").attr("d",arrowLine(redArrow)).attr("stroke","#ff3c00");
ag.append("path").attr("d",barbLine(redBarbs)).attr("stroke","#ff3c00");
ag.append("path").attr("d",arrowLine(greenArrow)).attr("stroke","#00cc00");
ag.append("path").attr("d",barbLine(greenBarbs)).attr("stroke","#00cc00");

// ---- energies
function energy(yy,colour,gamma,rest){
  const t=svg.append("text").attr("x",768).attr("y",yy).attr("font-size",41).attr("fill",colour);
  t.append("tspan").text("E(");
  t.append("tspan").attr("font-family","Liberation Serif").text("γ");
  t.append("tspan").text(gamma+rest);
}
energy(108.7,"#ff3300","1",")=101MeV");
energy(160,"#3333cc","2",")=91MeV");

// ---- legend
svg.append("text").attr("x",880.6).attr("y",758).attr("text-anchor","middle").attr("font-size",23.4).attr("font-weight","bold").attr("fill","#111").text("Vertices");
const legX=d3.scalePoint().domain(vertexNames).range([798.4,962]);
const legLab={"Real":798.7,"Recon":852,"Gamma 1":905.7,"Gamma 2":960.7};
vertexNames.forEach((n,i)=>{
  diamond(svg,legX(n),783,vertexColors[i],1);
  svg.append("text").attr("x",legLab[n]).attr("y",807.7).attr("text-anchor","middle").attr("font-size",9.8).attr("font-weight","bold").attr("fill","#222").text(n);
});
svg.append("text").attr("x",736).attr("y",849).attr("font-size",18.4).attr("font-weight","bold").attr("fill","#111").text("Gamma 2");
svg.append("text").attr("x",941.7).attr("y",849).attr("font-size",18.4).attr("font-weight","bold").attr("fill","#111").text("Gamma 1");
svg.append("rect").attr("x",778).attr("y",851).attr("width",205).attr("height",11).attr("fill","url(#gradGamma)");
const peX=d3.scalePoint().domain(legendPe).range([787.3,977]);
svg.append("g").selectAll("circle").data(legendPe).join("circle").attr("cx",d=>peX(d)).attr("cy",876.7).attr("r",d=>rPe(d)).attr("fill","#000");
svg.append("text").attr("x",758).attr("y",908).attr("font-size",17.6).attr("font-weight","bold").attr("fill","#111").text("1 pE");
svg.append("text").attr("x",955).attr("y",908).attr("font-size",17.6).attr("font-weight","bold").attr("fill","#111").text("23 pE");
</script></body></html>
